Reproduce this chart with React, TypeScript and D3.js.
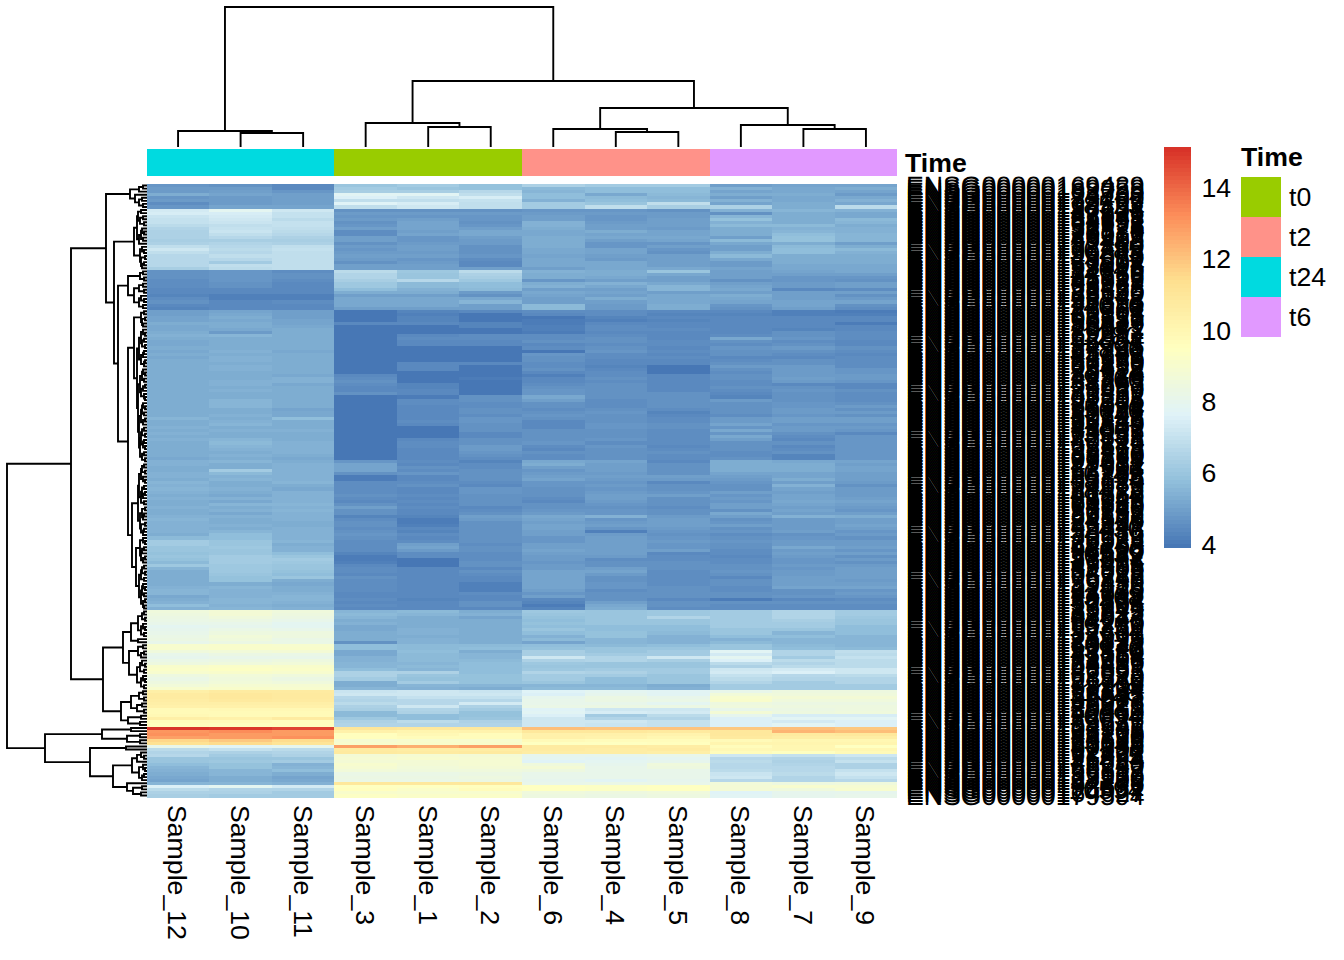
import * as d3 from 'd3';
import React, { useEffect, useRef } from 'react';

const width = 1344;
const height = 960;
const font = '"Liberation Sans", Arial, sans-serif';

// column order as clustered
const sampleNames = ['Sample_12', 'Sample_10', 'Sample_11', 'Sample_3', 'Sample_1', 'Sample_2', 'Sample_6', 'Sample_4', 'Sample_5', 'Sample_8', 'Sample_7', 'Sample_9'];
const sampleTime = ['t24', 't24', 't24', 't0', 't0', 't0', 't2', 't2', 't2', 't6', 't6', 't6'];
const timeLevels = ['t0', 't2', 't24', 't6'];
const timeColors = ['#99CC00', '#FF9289', '#00DAE0', '#E199FF'];
const heatColors = ['#4575B4', '#91BFDB', '#E0F3F8', '#FFFFBF', '#FEE090', '#FC8D59', '#D73027'];
const legendTicks = [4, 6, 8, 10, 12, 14];

// expression x10, rows top to bottom, one line per row cluster
const s12 = [
	48, 49, 49, 54, 48, 49, 46, 48,
	74, 75, 71, 70, 70, 68, 66, 65, 65, 65, 64, 65, 69, 72, 69, 67, 67, 67, 67, 64,
	47, 47, 47, 46, 46, 46, 45, 45, 43, 46, 47, 44, 43,
	50, 50, 51, 51, 53, 52, 52, 54, 55, 54, 52, 52, 53, 52, 53, 52, 53, 54, 54, 54, 53, 53, 54, 54, 54, 53, 54, 54, 53, 53, 54, 54, 54, 54, 54,
	56, 54, 54, 55, 54, 55, 54, 55, 54, 53, 54, 53, 54, 52, 55, 55, 54, 54, 55, 55, 54, 56, 55, 56, 55, 54, 55, 54, 54, 55, 54, 54, 55, 56, 55, 55, 55, 55, 54, 57, 62, 63, 60, 60, 59, 60, 59, 57, 61, 56, 54, 54, 54, 54, 54, 55, 56, 56, 52, 53, 55, 58, 55,
	86, 85, 84, 83, 81, 79, 80, 82, 83, 84, 82, 90, 90, 86, 82, 80, 83, 85, 92, 93, 91, 85, 83, 85, 87, 90,
	105, 107, 107, 106, 105, 104, 98, 98, 99, 105, 97, 96,
	151, 131, 132, 128, 116, 113,
	81, 68, 66, 67, 60, 60, 58, 56, 55, 54, 52, 51, 56, 76, 68, 65, 64,
];
const s10 = [
	47, 49, 50, 51, 49, 49, 49, 51,
	79, 75, 74, 73, 71, 69, 70, 71, 69, 67, 64, 66, 67, 68, 67, 69, 67, 63, 69, 68,
	48, 48, 48, 48, 47, 47, 45, 45, 42, 42, 44, 44, 44,
	51, 52, 53, 52, 53, 53, 52, 49, 56, 54, 54, 54, 54, 55, 54, 55, 55, 54, 55, 55, 54, 54, 54, 55, 55, 54, 55, 54, 54, 56, 56, 56, 53, 54, 55,
	54, 55, 56, 54, 55, 53, 54, 56, 57, 56, 55, 54, 55, 54, 56, 54, 54, 62, 57, 55, 56, 54, 53, 55, 54, 52, 55, 52, 56, 54, 55, 52, 55, 54, 54, 55, 53, 56, 58, 58, 60, 60, 61, 60, 60, 63, 63, 62, 61, 61, 61, 60, 59, 59, 54, 56, 55, 55, 55, 56, 56, 55, 56,
	88, 88, 86, 84, 82, 80, 83, 85, 87, 86, 84, 92, 92, 87, 84, 82, 84, 86, 93, 94, 92, 87, 86, 87, 89, 92,
	107, 110, 110, 108, 105, 104, 99, 98, 98, 104, 97, 95,
	150, 133, 130, 130, 120, 115,
	78, 70, 65, 63, 60, 61, 59, 59, 56, 56, 53, 54, 56, 79, 66, 65, 63,
];
const s11 = [
	45, 44, 48, 50, 50, 50, 50, 51,
	72, 70, 70, 68, 70, 70, 69, 68, 67, 65, 64, 65, 69, 70, 69, 69, 69, 69, 69, 69,
	46, 47, 47, 46, 45, 44, 45, 45, 42, 42, 46, 45, 44,
	50, 50, 50, 51, 51, 52, 53, 53, 54, 54, 53, 54, 54, 52, 54, 53, 53, 54, 53, 53, 53, 52, 55, 55, 52, 53, 53, 54, 53, 53, 53, 53, 51, 52, 52,
	58, 54, 54, 54, 55, 54, 54, 54, 55, 55, 55, 55, 53, 52, 54, 55, 55, 55, 55, 55, 55, 56, 54, 52, 55, 55, 55, 55, 56, 55, 56, 55, 55, 55, 54, 54, 55, 55, 55, 55, 56, 54, 55, 55, 58, 60, 62, 61, 60, 60, 59, 58, 60, 54, 52, 53, 54, 55, 56, 56, 55, 53, 55,
	86, 85, 84, 82, 79, 79, 81, 85, 85, 83, 83, 90, 92, 88, 83, 82, 85, 87, 92, 93, 91, 86, 84, 86, 89, 91,
	107, 108, 108, 107, 105, 104, 99, 98, 98, 107, 96, 96,
	148, 130, 130, 132, 115, 112,
	80, 68, 66, 65, 60, 62, 55, 56, 58, 53, 51, 52, 55, 74, 66, 63, 62,
];
const s3 = [
	60, 62, 64, 78, 76, 69, 77, 69,
	47, 49, 48, 49, 47, 48, 50, 46, 46, 50, 50, 47, 49, 48, 49, 50, 49, 47, 50, 50,
	68, 66, 66, 64, 61, 61, 58, 53, 50, 52, 52, 52, 50,
	40, 40, 40, 40, 44, 40, 40, 40, 40, 40, 40, 40, 40, 40, 40, 40, 40, 40, 40, 40, 40, 45, 46, 47, 46, 44, 45, 47, 40, 40, 40, 40, 40, 40, 40,
	40, 40, 40, 40, 40, 40, 40, 40, 40, 40, 40, 40, 40, 40, 48, 51, 51, 51, 47, 41, 41, 46, 46, 46, 46, 47, 46, 45, 47, 50, 47, 47, 43, 46, 47, 47, 46, 47, 48, 47, 46, 46, 46, 46, 43, 41, 41, 42, 45, 46, 46, 45, 47, 46, 46, 46, 46, 45, 45, 46, 44, 46, 45,
	56, 57, 56, 54, 55, 52, 52, 54, 54, 54, 47, 58, 58, 52, 52, 55, 55, 56, 56, 58, 65, 65, 62, 53, 53, 56,
	71, 72, 67, 66, 68, 65, 64, 57, 57, 61, 65, 66,
	111, 104, 96, 96, 89, 91,
	128, 107, 108, 88, 89, 88, 90, 89, 87, 83, 84, 83, 109, 95, 96, 92, 94,
];
const s1 = [
	62, 60, 64, 78, 72, 69, 75, 73,
	47, 49, 48, 50, 51, 51, 51, 50, 51, 48, 48, 49, 50, 50, 49, 50, 48, 49, 50, 50,
	61, 60, 60, 67, 57, 57, 55, 53, 50, 52, 52, 52, 50,
	43, 42, 43, 43, 44, 40, 40, 40, 45, 46, 44, 44, 40, 40, 40, 40, 40, 44, 44, 44, 40, 40, 40, 40, 43, 43, 44, 44, 41, 46, 46, 44, 44, 44, 44,
	45, 46, 44, 40, 40, 40, 40, 44, 46, 46, 44, 45, 45, 44, 46, 45, 47, 46, 48, 45, 45, 46, 47, 45, 45, 46, 45, 46, 45, 46, 45, 44, 43, 41, 41, 42, 44, 43, 46, 44, 46, 50, 51, 49, 46, 46, 40, 40, 40, 44, 45, 45, 45, 45, 45, 44, 44, 45, 44, 43, 44, 45, 45,
	57, 56, 54, 53, 53, 53, 55, 55, 54, 55, 55, 57, 57, 58, 57, 57, 57, 56, 57, 56, 65, 60, 59, 62, 56, 55,
	72, 72, 70, 67, 67, 72, 66, 65, 58, 58, 68, 66,
	110, 102, 99, 97, 91, 92,
	125, 106, 107, 89, 90, 88, 88, 87, 86, 83, 84, 83, 109, 95, 93, 91, 93,
];
const s2 = [
	59, 59, 67, 69, 75, 70, 69, 69,
	47, 49, 48, 48, 47, 48, 50, 52, 52, 50, 49, 49, 47, 47, 47, 48, 46, 45, 45, 50,
	68, 65, 64, 61, 58, 58, 57, 49, 47, 52, 56, 50, 50,
	44, 40, 40, 40, 43, 43, 40, 40, 46, 46, 44, 44, 40, 40, 40, 40, 40, 45, 40, 40, 40, 40, 41, 40, 40, 40, 40, 40, 47, 47, 46, 46, 47, 47, 46,
	48, 48, 47, 47, 47, 45, 44, 47, 47, 49, 49, 48, 47, 46, 43, 46, 46, 47, 47, 47, 47, 46, 44, 48, 48, 47, 47, 47, 47, 45, 46, 47, 50, 49, 47, 47, 47, 47, 47, 47, 47, 46, 47, 47, 46, 46, 46, 47, 47, 44, 47, 46, 45, 45, 42, 42, 42, 46, 44, 45, 47, 47, 45,
	54, 55, 51, 54, 54, 54, 53, 53, 53, 53, 53, 57, 58, 53, 56, 56, 57, 58, 58, 58, 58, 59, 59, 59, 56, 54,
	71, 72, 70, 67, 74, 65, 62, 59, 59, 60, 65, 66,
	110, 103, 97, 97, 91, 92,
	128, 106, 108, 88, 89, 89, 89, 88, 86, 84, 85, 84, 109, 96, 97, 91, 93,
];
const s6 = [
	65, 57, 56, 58, 58, 55, 63, 63,
	48, 49, 50, 50, 55, 55, 54, 52, 52, 53, 54, 54, 53, 52, 52, 51, 52, 52, 52, 50,
	55, 54, 53, 48, 53, 55, 50, 52, 51, 50, 50, 57, 57,
	46, 44, 40, 41, 41, 42, 42, 41, 46, 46, 47, 45, 46, 40, 48, 47, 47, 46, 46, 47, 44, 42, 44, 45, 46, 47, 48, 48, 52, 50, 47, 47, 46, 47, 48,
	47, 45, 44, 45, 47, 47, 47, 47, 48, 46, 45, 47, 46, 46, 52, 54, 50, 48, 49, 50, 51, 48, 48, 47, 47, 47, 46, 45, 47, 47, 48, 49, 52, 51, 50, 51, 51, 50, 50, 48, 48, 50, 50, 51, 50, 49, 49, 48, 49, 49, 51, 51, 51, 51, 51, 51, 50, 48, 50, 44, 43, 41, 43,
	61, 60, 59, 58, 59, 58, 60, 58, 55, 57, 51, 58, 59, 64, 64, 73, 65, 61, 60, 61, 66, 63, 62, 60, 56, 57,
	77, 76, 80, 82, 81, 83, 77, 78, 76, 72, 72, 72,
	122, 110, 104, 104, 98, 95,
	107, 107, 106, 80, 79, 77, 86, 88, 85, 82, 82, 80, 82, 95, 95, 86, 85,
];
const s4 = [
	62, 58, 58, 52, 57, 58, 60, 69,
	48, 49, 48, 48, 49, 50, 50, 53, 51, 52, 50, 48, 48, 51, 51, 50, 49, 52, 52, 52,
	53, 54, 52, 50, 55, 52, 50, 51, 50, 53, 50, 49, 49,
	46, 46, 43, 42, 45, 46, 46, 44, 46, 47, 47, 46, 47, 48, 46, 46, 45, 45, 43, 44, 46, 46, 47, 46, 47, 47, 47, 47, 47, 46, 46, 46, 47, 48, 47,
	47, 47, 48, 48, 47, 47, 47, 48, 46, 48, 47, 47, 47, 47, 51, 50, 50, 50, 49, 50, 49, 48, 49, 48, 49, 50, 50, 49, 48, 47, 48, 48, 55, 48, 49, 50, 48, 42, 49, 50, 50, 50, 50, 50, 50, 49, 46, 47, 47, 50, 51, 49, 47, 47, 48, 48, 46, 47, 47, 47, 50, 52, 53,
	60, 60, 60, 60, 60, 58, 58, 59, 59, 56, 56, 57, 60, 60, 63, 66, 66, 60, 60, 62, 65, 62, 58, 58, 56, 57,
	79, 80, 84, 84, 82, 84, 73, 75, 63, 66, 73, 71,
	121, 109, 104, 103, 97, 95,
	107, 106, 106, 80, 78, 79, 80, 82, 82, 82, 81, 78, 83, 94, 94, 85, 84,
];
const s5 = [
	63, 58, 58, 57, 56, 57, 69, 64,
	47, 49, 49, 50, 50, 50, 49, 51, 51, 52, 51, 48, 50, 48, 47, 50, 50, 50, 50, 52,
	60, 52, 50, 50, 52, 56, 56, 50, 52, 52, 52, 54, 54,
	45, 43, 44, 43, 45, 45, 46, 44, 45, 45, 46, 46, 45, 46, 45, 46, 45, 45, 40, 40, 40, 44, 45, 45, 44, 44, 45, 47, 47, 47, 47, 47, 46, 43, 45,
	46, 46, 47, 47, 46, 46, 46, 46, 46, 45, 46, 47, 46, 46, 44, 47, 47, 47, 47, 50, 49, 45, 47, 47, 48, 50, 47, 47, 47, 46, 47, 47, 49, 50, 50, 50, 49, 48, 47, 48, 49, 48, 48, 50, 45, 46, 46, 47, 47, 47, 46, 46, 46, 46, 46, 47, 47, 47, 47, 45, 47, 47, 46,
	61, 61, 66, 60, 60, 58, 58, 57, 55, 55, 55, 58, 60, 62, 63, 72, 64, 60, 60, 63, 63, 60, 60, 60, 54, 55,
	78, 78, 81, 83, 79, 84, 73, 74, 68, 66, 70, 70,
	121, 108, 103, 100, 97, 96,
	106, 107, 105, 81, 79, 80, 86, 85, 82, 82, 82, 80, 82, 95, 95, 86, 85,
];
const s8 = [
	50, 55, 51, 53, 50, 55, 51, 65,
	55, 47, 56, 59, 55, 57, 54, 53, 54, 50, 57, 52, 50, 50, 53, 57, 52, 49, 49, 51,
	50, 50, 50, 47, 50, 51, 52, 50, 53, 52, 51, 48, 47,
	44, 43, 45, 44, 44, 44, 45, 45, 46, 52, 47, 46, 48, 47, 47, 45, 46, 47, 49, 47, 46, 47, 47, 46, 46, 47, 46, 45, 43, 49, 47, 47, 47, 47, 46,
	49, 49, 51, 48, 52, 48, 52, 50, 47, 47, 47, 46, 46, 47, 53, 54, 54, 53, 51, 50, 49, 48, 47, 47, 50, 48, 49, 48, 50, 50, 47, 52, 50, 47, 48, 50, 47, 48, 46, 47, 48, 47, 47, 46, 46, 45, 46, 46, 47, 47, 48, 47, 44, 47, 47, 46, 46, 47, 47, 41, 47, 46, 46,
	63, 63, 63, 63, 63, 62, 60, 60, 58, 55, 57, 60, 60, 78, 74, 79, 76, 68, 65, 72, 74, 70, 68, 66, 62, 63,
	82, 87, 90, 92, 85, 86, 82, 88, 80, 76, 76, 76,
	120, 110, 110, 108, 98, 102,
	97, 99, 97, 73, 67, 68, 67, 67, 68, 71, 72, 67, 87, 88, 88, 77, 78,
];
const s7 = [
	51, 52, 52, 53, 52, 52, 54, 54,
	56, 54, 53, 53, 54, 57, 55, 56, 58, 59, 59, 54, 57, 58, 58, 54, 54, 53, 52, 52,
	51, 50, 48, 48, 49, 49, 45, 50, 50, 50, 51, 51, 50,
	42, 42, 45, 45, 44, 44, 43, 47, 47, 48, 46, 47, 49, 47, 46, 44, 47, 47, 49, 49, 49, 49, 50, 49, 44, 47, 48, 47, 47, 47, 48, 48, 49, 49, 48,
	50, 50, 48, 49, 49, 47, 46, 45, 47, 44, 46, 47, 43, 43, 52, 53, 53, 53, 51, 51, 54, 50, 55, 51, 50, 51, 51, 52, 51, 50, 51, 50, 55, 49, 49, 49, 49, 50, 47, 48, 49, 49, 52, 49, 50, 49, 48, 48, 49, 48, 49, 49, 50, 50, 50, 51, 47, 47, 48, 45, 47, 46, 46,
	66, 66, 66, 64, 62, 62, 60, 56, 58, 56, 56, 57, 58, 66, 66, 63, 68, 66, 68, 74, 76, 67, 66, 62, 62, 62,
	85, 86, 88, 86, 84, 85, 84, 85, 75, 78, 74, 78,
	122, 124, 108, 106, 100, 102,
	100, 100, 95, 70, 66, 65, 66, 67, 67, 68, 66, 66, 85, 90, 86, 80, 80,
];
const s9 = [
	51, 53, 51, 49, 52, 55, 52, 68,
	55, 52, 52, 57, 56, 53, 55, 55, 56, 56, 56, 50, 54, 57, 55, 53, 53, 53, 52, 52,
	52, 50, 48, 47, 50, 50, 46, 50, 47, 49, 51, 47, 46,
	41, 42, 44, 44, 41, 44, 44, 46, 46, 46, 45, 44, 47, 46, 45, 46, 46, 46, 46, 48, 48, 49, 49, 48, 45, 45, 47, 46, 46, 46, 47, 49, 47, 49, 47,
	50, 50, 48, 49, 48, 44, 48, 48, 48, 48, 48, 48, 48, 48, 51, 50, 51, 51, 50, 50, 50, 49, 47, 49, 49, 49, 50, 51, 50, 49, 48, 50, 54, 50, 50, 51, 50, 48, 49, 47, 49, 49, 50, 48, 50, 47, 49, 47, 49, 50, 50, 50, 50, 49, 50, 51, 48, 49, 48, 46, 47, 46, 46,
	62, 62, 61, 60, 60, 58, 58, 58, 56, 56, 56, 56, 57, 69, 68, 70, 68, 68, 68, 72, 72, 68, 66, 66, 62, 63,
	85, 86, 88, 86, 84, 85, 85, 86, 75, 78, 76, 76,
	120, 122, 110, 106, 100, 102,
	95, 101, 98, 73, 68, 70, 65, 65, 70, 72, 70, 67, 86, 89, 90, 80, 81,
];
const sampleValues = [s12, s10, s11, s3, s1, s2, s6, s4, s5, s8, s7, s9];

// merge height between neighbouring leaves, enough to rebuild the dendrograms
const colTreeHeights = [16, 14, 140, 24, 20, 66, 18, 15, 39, 22, 18];
const rowTreeHeights = [
	4, 8, 17, 12, 5, 8, 4, 41,
	6, 9, 4, 7, 3, 10, 5, 3, 6, 4, 8, 13, 5, 3, 7, 2, 6, 3, 5, 33,
	4, 7, 3, 19, 4, 8, 3, 13, 6, 3, 8, 4, 29,
	3, 6, 2, 5, 4, 13,
	4, 2, 6, 3, 5, 2, 8, 3, 4, 6, 2, 3, 10, 4, 2, 5, 3, 7, 2, 4, 6, 3, 2, 9, 4, 2, 5, 3, 6, 2, 4, 8, 3, 5, 2, 6, 3, 4, 2, 7, 3, 5, 2, 19,
	3, 5, 2, 6, 4, 2, 8, 3, 5, 2, 4, 6, 3, 9, 2, 5, 3, 4, 7, 2, 6, 3, 4, 15,
	4, 2, 7, 3, 5, 6, 2, 4, 11, 3, 5, 2, 6, 3, 8, 4, 2, 5, 3, 6, 2, 4, 3, 76,
	3, 5, 2, 9, 4, 2, 6, 3, 16, 9, 24, 4, 9, 3, 6, 18, 5, 2, 7, 3, 10, 4, 2, 6, 3, 44,
	4, 8, 3, 16, 5, 10, 3, 26, 6, 19, 7, 140,
	16, 45, 7, 20, 7, 102,
	21, 57, 6, 3, 10, 15, 4, 2, 8, 3, 5, 34, 20, 5, 14, 6,
];

// ENSG00000 + these, in row order
const geneSuffixes = [
	'169429', '189058', '163739', '124762', '135480', '173207', '118523', '196154', '187608', '142871',
	'125148', '164692', '108691', '151726', '133874', '176530', '120217', '148965', '159403', '182716',
	'137462', '116285', '190873', '145069', '128531', '167204', '153998', '112647', '174380', '131256',
	'195712', '141089', '106927', '158463', '122635', '183570', '169142', '136828', '147395', '114076',
	'178251', '129904', '162318', '105637', '150786', '186429', '123041', '170952', '139617', '111283',
	'192564', '156037', '134725', '117896', '165341', '144208', '181673', '127159', '160890', '103452',
	'175628', '132974', '149316', '119760', '188245', '154603', '126087', '171439', '143852', '109218',
	'197305', '138561', '161974', '115620', '180147', '152298', '130743', '166815', '121369', '146502',
	'184036', '113957', '172681', '140124', '157849', '125573', '193418', '135296', '168760', '107314',
	'179082', '147631', '122908', '163257', '110745', '185396', '155124', '133680', '174913', '118472',
	'141536', '191267', '128049', '160385', '104819', '177740', '150263', '136192', '169578', '124306',
	'186951', '145847', '112430', '158016', '130679', '173325', '120984', '164158', '142703', '196620',
	'116539', '153872', '181094', '127461', '149235', '167906', '134018', '105782', '176347', '139450',
	'189613', '122176', '161829', '144095', '113268', '170534', '157391', '126704', '183849', '131925',
	'148617', '107043', '194276', '165780', '119352', '152461', '137608', '178913', '124895', '143127',
	'160242', '115976', '187530', '135764', '171018', '128306', '154489', '109631', '146853', '182095',
	'163572', '121740', '175216', '138907', '197164', '111328', '156645', '132087', '168923', '149071',
	'125819', '180452', '142360', '116094', '172876', '159537', '134241', '103985', '166108', '147269',
	'184780', '120613', '153046', '130358', '192907', '161421', '117275', '176094', '141683', '128740',
	'169852', '136517', '185163', '123920', '157208', '144376', '198632', '110594', '164027', '179594',
];

type Node = { pos: number; h: number };

// recursive split on the tallest merge in a range
const drawTree = (heights: number[], pos: (i: number) => number, emit: (p0: number, p1: number, h: number, h0: number, h1: number) => void) => {
	const walk = (lo: number, hi: number): Node => {
		if (lo === hi) return { pos: pos(lo), h: 0 };
		const range = heights.slice(lo, hi);
		const split = lo + d3.maxIndex(range);
		const a = walk(lo, split);
		const b = walk(split + 1, hi);
		const h = heights[split];
		emit(a.pos, b.pos, h, a.h, b.h);
		return { pos: (a.pos + b.pos) / 2, h };
	};
	walk(0, heights.length);
};

export default function App() {
	const ref = useRef<SVGSVGElement>(null);

	useEffect(() => {
		const svg = d3.select(ref.current);
		svg.selectAll('*').remove();

		const x = d3.scaleBand().domain(sampleNames).range([146.8, 897.2]);
		const rows = d3.range(200);
		const y = d3.scaleBand<number>().domain(rows).range([184, 797]);

		const stops = d3.range(heatColors.length).map(i => 3.95 + (i * 11.2) / (heatColors.length - 1));
		const ramp = d3.scaleLinear<string>().domain(stops).range(heatColors).interpolate(d3.interpolateRgb);
		const colorSteps = d3.range(100).map(i => ramp(3.95 + ((i + 0.5) * 11.2) / 100));
		const color = d3.scaleQuantize<string>().domain([3.95, 15.15]).range(colorSteps);

		// heatmap
		const heat = svg.append('g').attr('shape-rendering', 'crispEdges');
		sampleNames.forEach((name, c) => {
			heat.append('g')
				.selectAll('rect')
				.data(sampleValues[c])
				.join('rect')
				.attr('x', x(name) as number)
				.attr('y', (d, i) => y(i) as number)
				.attr('width', x.bandwidth())
				.attr('height', y.bandwidth() + 0.5)
				.attr('fill', d => color(d / 10));
		});

		// annotation bar
		const timeColor = d3.scaleOrdinal<string>().domain(timeLevels).range(timeColors);
		svg.append('g')
			.attr('shape-rendering', 'crispEdges')
			.selectAll('rect')
			.data(sampleNames)
			.join('rect')
			.attr('x', d => x(d) as number)
			.attr('y', 149)
			.attr('width', x.bandwidth())
			.attr('height', 27)
			.attr('fill', (d, i) => timeColor(sampleTime[i]));

		// dendrograms
		const colH = d3.scaleLinear().domain([0, 140]).range([147, 7]);
		const rowH = d3.scaleLinear().domain([0, 140]).range([147, 7]);
		const colPath = d3.path();
		drawTree(colTreeHeights, i => (x(sampleNames[i]) as number) + x.bandwidth() / 2, (p0, p1, h, h0, h1) => {
			colPath.moveTo(p0, colH(h0));
			colPath.lineTo(p0, colH(h));
			colPath.lineTo(p1, colH(h));
			colPath.lineTo(p1, colH(h1));
		});
		const rowPath = d3.path();
		drawTree(rowTreeHeights, i => (y(i) as number) + y.bandwidth() / 2, (p0, p1, h, h0, h1) => {
			rowPath.moveTo(rowH(h0), p0);
			rowPath.lineTo(rowH(h), p0);
			rowPath.lineTo(rowH(h), p1);
			rowPath.lineTo(rowH(h1), p1);
		});
		svg.append('path').attr('d', colPath.toString()).attr('fill', 'none').attr('stroke', '#000').attr('stroke-width', 1.9);
		svg.append('path').attr('d', rowPath.toString()).attr('fill', 'none').attr('stroke', '#000').attr('stroke-width', 1.9);

		const text = svg.append('g').attr('font-family', font).attr('font-size', 26.67).attr('fill', '#000');

		// gene labels, they overlap into solid columns
		text.append('g')
			.selectAll('text')
			.data(geneSuffixes)
			.join('text')
			.attr('x', 906)
			.attr('y', (d, i) => (y(i) as number) + y.bandwidth() / 2)
			.attr('dy', '0.36em')
			.attr('text-rendering', 'geometricPrecision')
			.text(d => `ENSG00000${d}`);

		// sample labels
		text.append('g')
			.selectAll('text')
			.data(sampleNames)
			.join('text')
			.attr('transform', d => `translate(${(x(d) as number) + x.bandwidth() / 2},805) rotate(90)`)
			.attr('dy', '0.36em')
			.text(d => d);

		text.append('text').attr('x', 905).attr('y', 172).attr('font-weight', 'bold').text('Time');

		// colour legend
		const legendY = d3.scaleLinear().domain([3.95, 15.15]).range([547, 147]);
		svg.append('g')
			.attr('shape-rendering', 'crispEdges')
			.selectAll('rect')
			.data(colorSteps)
			.join('rect')
			.attr('x', 1164)
			.attr('y', (d, i) => legendY(3.95 + ((i + 1) * 11.2) / 100))
			.attr('width', 27)
			.attr('height', 4.5)
			.attr('fill', d => d);
		text.append('g')
			.selectAll('text')
			.data(legendTicks)
			.join('text')
			.attr('x', 1201.5)
			.attr('y', d => legendY(d) - 1)
			.attr('dy', '0.36em')
			.text(d => d);

		// annotation legend
		text.append('text').attr('x', 1241).attr('y', 166).attr('font-weight', 'bold').text('Time');
		const legendBand = d3.scaleBand().domain(timeLevels).range([177, 337]);
		svg.append('g')
			.attr('shape-rendering', 'crispEdges')
			.selectAll('rect')
			.data(timeLevels)
			.join('rect')
			.attr('x', 1241)
			.attr('y', d => legendBand(d) as number)
			.attr('width', 40)
			.attr('height', legendBand.bandwidth())
			.attr('fill', d => timeColor(d));
		text.append('g')
			.selectAll('text')
			.data(timeLevels)
			.join('text')
			.attr('x', 1289)
			.attr('y', d => (legendBand(d) as number) + legendBand.bandwidth() / 2 - 0.5)
			.attr('dy', '0.36em')
			.text(d => d);
	}, []);

	return <svg ref={ref} width={width} height={height} style={{ position: 'absolute', left: 0, top: 0, background: '#fff' }} />;
}
